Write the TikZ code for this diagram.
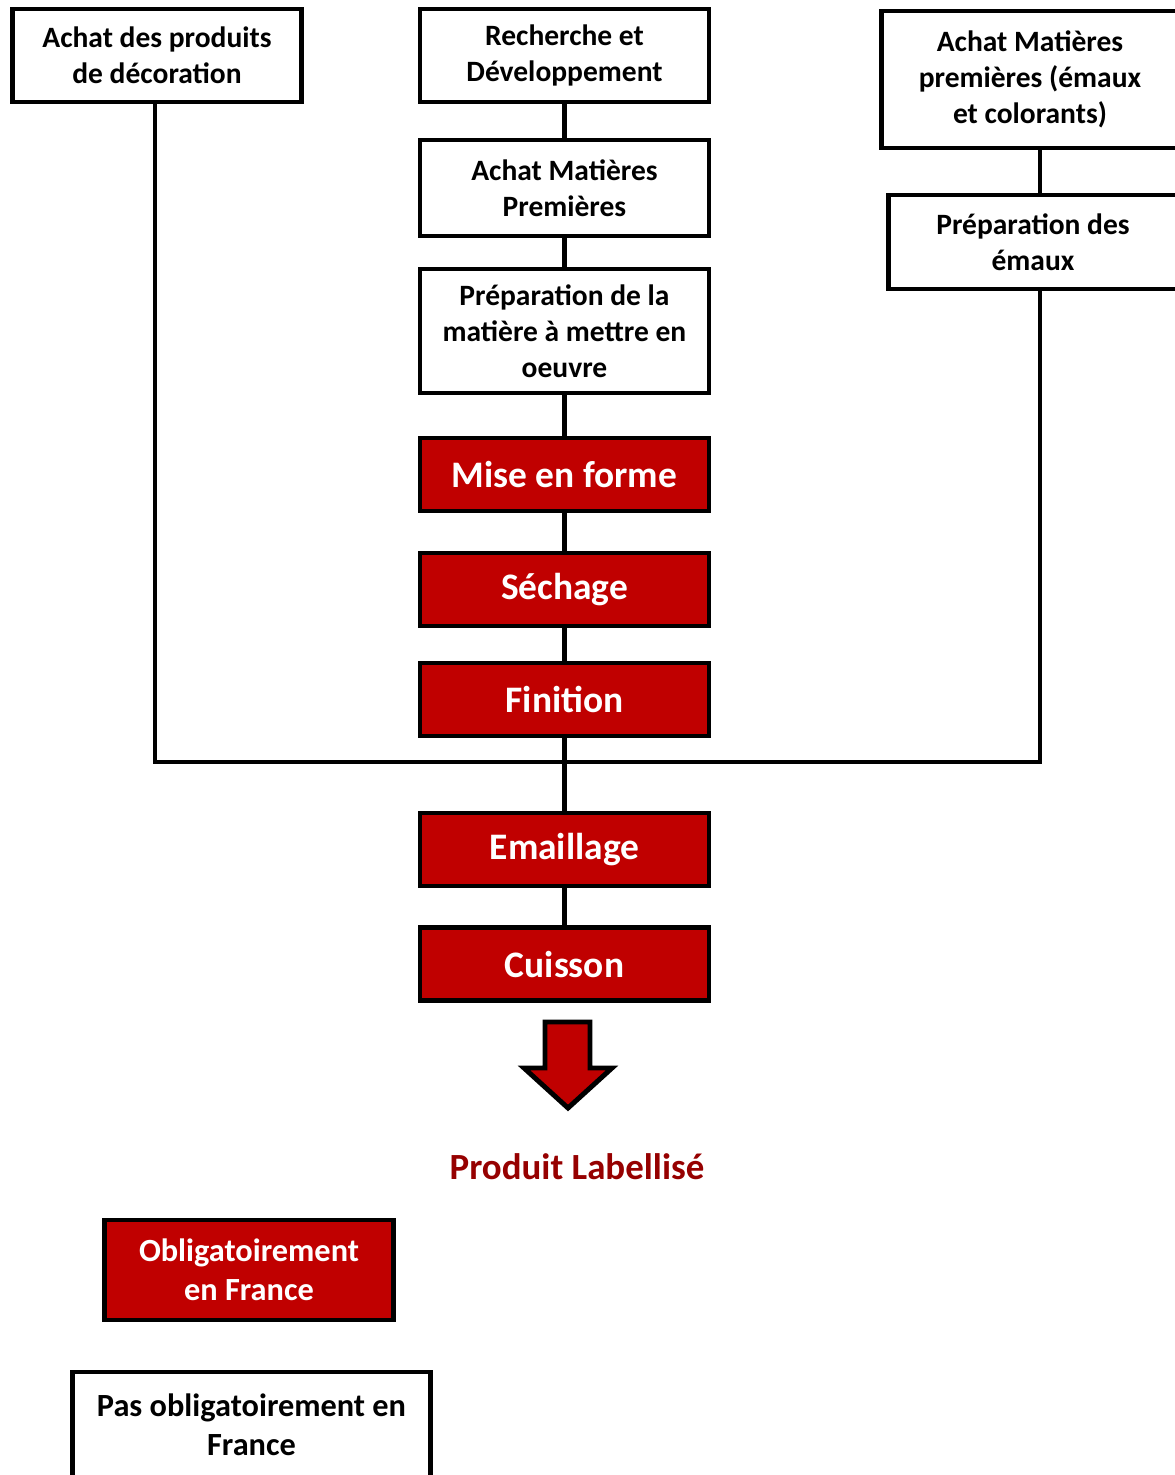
\documentclass[tikz,border=0pt]{standalone}
\usepackage{fontspec}
\setmainfont{Carlito}
\usepackage{xcolor}
\usepackage{tikz}
\usetikzlibrary{positioning, calc}
\definecolor{labelred}{RGB}{192, 0, 0}
\definecolor{darkred}{RGB}{150, 0, 0}

\begin{document}
\begin{tikzpicture}[
    x=0.02cm, y=-0.02cm,
    wbox/.style={draw, line width=2.8pt, fill=white, minimum width=5.78cm, align=center, font=\bfseries\fontsize{16.8}{20.5}\selectfont, inner sep=2pt},
    rbox/.style={draw, line width=2.8pt, fill=labelred, text=white, minimum width=5.78cm, minimum height=1.46cm, align=center, font=\bfseries\fontsize{21.3}{25}\selectfont},
    legend/.style={font=\bfseries\fontsize{18.4}{22}\selectfont},
    link/.style={line width=2.8pt}
]
    \useasboundingbox (0,0) rectangle (1174,1475);

    % left and right branches
    \node[wbox, minimum height=1.86cm] (deco) at (157,55.5) {Achat des produits\\de décoration};
    \node[wbox, minimum width=5.95cm, minimum height=2.74cm] (achatR) at (1030,79.5) {Achat Matières\\premières (émaux\\et colorants)};
    \node[wbox, minimum height=1.88cm] (prepE) at (1033,242) {Préparation des\\émaux};

    % main chain
    \node[wbox, minimum height=1.86cm] (rd) at (564.5,55.5) {Recherche et\\Développement};
    \node[wbox, minimum height=1.92cm] (amp) at (564.5,188) {Achat Matières\\Premières};
    \node[wbox, minimum height=2.48cm] (prep) at (564.5,331) {Préparation de la\\matière à mettre en\\oeuvre};
    \node[rbox] (mise) at (564.5,474.5) {Mise en forme};
    \node[rbox] (sech) at (564.5,589.5) {Séchage};
    \node[rbox] (fin) at (564.5,699.5) {Finition};
    \node[rbox] (email) at (564.5,849.5) {Emaillage};
    \node[rbox] (cuis) at (564.5,964) {Cuisson};

    \coordinate (join) at (567,762);

    \draw[link] (rd) -- (amp);
    \draw[link] (amp) -- (prep);
    \draw[link] (prep) -- (mise);
    \draw[link] (mise) -- (sech);
    \draw[link] (sech) -- (fin);
    \draw[link] (fin) -- (email);
    \draw[link] (email) -- (cuis);
    \draw[link] (achatR.south -| 1040,0) -- (prepE.north -| 1040,0);
    \draw[link] (deco.south -| 155,0) |- (join) -| (prepE.south -| 1040,0);

    % output arrow
    \draw[line width=2.8pt, fill=labelred, line join=miter]
        (545,1022) -- (590,1022) -- (590,1068) -- (612,1068) -- (568,1108)
        -- (524,1068) -- (545,1068) -- cycle;
    \node[font=\bfseries\fontsize{21}{25}\selectfont, text=darkred] (prod) at (577,1167) {Produit Labellisé};

    % legend
    \node[wbox, legend, fill=labelred, text=white, minimum height=2.0cm] (oblig) at (249,1270) {Obligatoirement\\en France};
    \node[wbox, legend, minimum width=7.16cm, minimum height=2.12cm] (pasob) at (251.5,1425) {Pas obligatoirement en\\France};
\end{tikzpicture}
\end{document}
